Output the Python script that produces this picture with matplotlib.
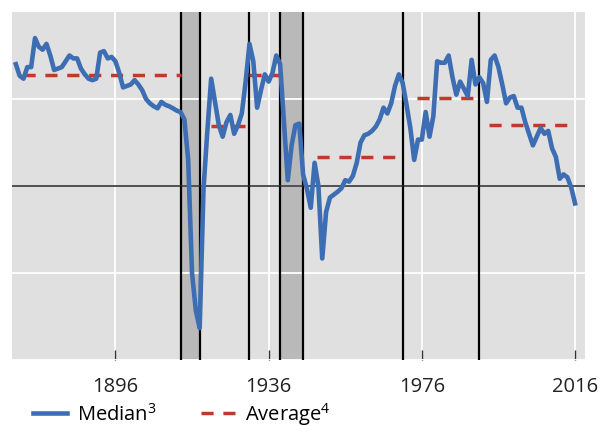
import numpy as np
import matplotlib
matplotlib.use("Agg")
import matplotlib.pyplot as plt

plt.rcParams['font.family'] = ['Open Sans', 'DejaVu Sans']
plt.rcParams['mathtext.fontset'] = 'custom'
plt.rcParams['mathtext.rm'] = 'Open Sans'

# median series, one value per year 1870-2016
years = np.arange(1870, 2017)
median = [
    4.2, 3.8, 3.7, 4.1, 4.1, 5.1, 4.8, 4.7, 4.9, 4.5,        # 1870s
    4.0, 4.05, 4.1, 4.3, 4.5, 4.4, 4.4, 4.05, 3.85, 3.7,     # 1880s
    3.65, 3.7, 4.6, 4.65, 4.4, 4.45, 4.3, 3.9, 3.4, 3.45,    # 1890s
    3.5, 3.65, 3.5, 3.3, 3.0, 2.85, 2.75, 2.68, 2.9, 2.8,    # 1900s
    2.75, 2.68, 2.6, 2.55, 2.3, 0.9, -3.0, -4.3, -4.9, -0.1, # 1910s
    1.9, 3.7, 2.9, 2.1, 1.7, 2.2, 2.45, 1.8, 2.1, 2.5,       # 1920s
    3.6, 4.9, 4.3, 2.7, 3.3, 3.85, 3.6, 3.9, 4.5, 4.2,       # 1930s
    2.2, 0.2, 1.4, 2.1, 2.15, 0.4, -0.1, -0.75, 0.8, 0.0,    # 1940s
    -2.5, -0.9, -0.4, -0.3, -0.2, -0.08, 0.2, 0.15, 0.35, 0.8,  # 1950s
    1.5, 1.75, 1.8, 1.9, 2.05, 2.3, 2.7, 2.5, 2.85, 3.45,    # 1960s
    3.85, 3.55, 2.8, 2.0, 0.9, 1.6, 1.6, 2.55, 1.7, 2.4,     # 1970s
    4.3, 4.25, 4.25, 4.5, 3.75, 3.15, 3.6, 3.35, 3.1, 4.35,  # 1980s
    3.5, 3.75, 3.55, 2.9, 4.35, 4.5, 4.1, 3.5, 2.85, 3.05,   # 1990s
    3.1, 2.7, 2.7, 2.2, 1.8, 1.4, 1.7, 2.0, 1.8, 1.9,        # 2000s
    1.3, 1.0, 0.25, 0.4, 0.3, -0.05, -0.6,                   # 2010s
]

# period averages: start, end, value
avg_start = [1872, 1921, 1931, 1948.7, 1974.8, 1993.5]
avg_end = [1913, 1931, 1939, 1971, 1991, 2016]
avg_value = [3.83, 2.07, 3.83, 1.0, 3.03, 2.12]

# war periods (shaded) and other break years
shaded = [(1913, 1918), (1939, 1945)]
breaks = [1913, 1918, 1931, 1939, 1945, 1971, 1991]

xticks = [1896, 1936, 1976, 2016]
yticks = [3, 0, -3, -6]
ylabels = ['3', '0', '\u22123', '\u22126']

fig = plt.figure(figsize=(6.03, 4.26), dpi=100)
ax = fig.add_axes([12/603, 66/426, 573/603, 348/426])
ax.set_facecolor('#e0e0e0')
ax.set_axisbelow(True)
ax.grid(True, color='white', linewidth=1.3)

for a, b in shaded:
    ax.axvspan(a, b, color='#b9b9b9', zorder=0.2, linewidth=0)
for x in breaks:
    ax.axvline(x, color='black', linewidth=1.6, zorder=2)
ax.axhline(0, color='#222222', linewidth=1.1, zorder=2)

line_med, = ax.plot(years, median, color='#3d6db2', linewidth=3.3, zorder=4,
                    solid_joinstyle='round')
for s, e, v in zip(avg_start, avg_end, avg_value):
    line_avg, = ax.plot([s, e], [v, v], color='#c0392b', linewidth=2.5,
                        dashes=(3.5, 2.8), zorder=3)

ax.set_xlim(1869, 2018.6)
ax.set_ylim(-6, 6)
ax.set_xticks(xticks)
ax.set_xticklabels([str(t) for t in xticks], fontsize=14.5, color='#222222')
ax.tick_params(axis='x', direction='in', length=7, width=1, color='#333333', pad=12)
ax.yaxis.tick_right()
ax.set_yticks(yticks)
ax.set_yticklabels(ylabels, fontsize=14.5, color='#222222', va='bottom')
ax.tick_params(axis='y', length=0, pad=13)
for sp in ax.spines.values():
    sp.set_visible(False)

fig.legend([line_med, line_avg], ['Median$^{3}$', 'Average$^{4}$'],
           loc='center left', bbox_to_anchor=(0.054, 0.028), ncol=2, frameon=False,
           fontsize=14.5, handlelength=1.7, handletextpad=0.5, columnspacing=2.2,
           borderaxespad=0, borderpad=0)

fig.savefig('out.png', dpi=100)
